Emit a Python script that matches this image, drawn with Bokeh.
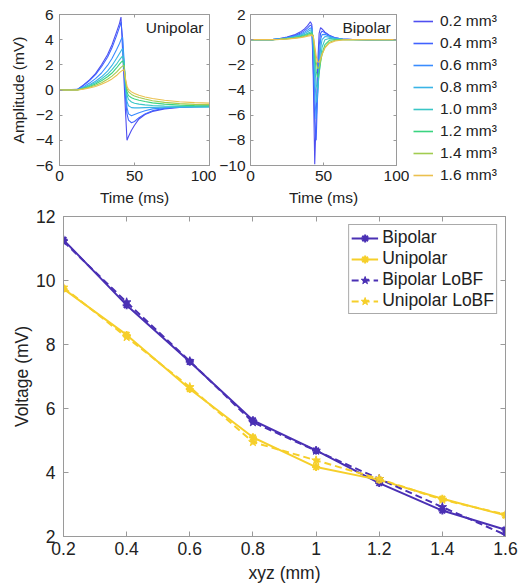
from bokeh.plotting import figure
from bokeh.layouts import column, row
from bokeh.models import Range1d, FixedTicker, LinearAxis, Label, Legend, LegendItem
from bokeh.embed import file_html
from bokeh.resources import INLINE

FONT = "Liberation Sans"
AX = "#9a9a9a"
TXT = "#222222"

# ---------------- data ----------------
volumes = ["0.2 mm³", "0.4 mm³", "0.6 mm³", "0.8 mm³", "1.0 mm³", "1.2 mm³", "1.4 mm³", "1.6 mm³"]
colors = ["#4f4ff0", "#4062ff", "#3a8cff", "#3ab4e6", "#3ac6c6", "#3ad480", "#a2cc50", "#ebc04e"]

t_uni = [0, 12, 16, 20, 24, 28, 32, 35, 38, 40, 41, 42, 43, 44, 45, 46, 48, 50, 53, 57, 62, 70, 80, 90, 100]
uni_02 = [0, 0.05, 0.4, 0.8, 1.3, 2.0, 2.8, 3.6, 4.6, 5.3, 5.8, 3.3, 0.8, -1.7, -4.0, -3.7, -3.2, -2.8, -2.3, -1.95, -1.7, -1.5, -1.38, -1.32, -1.3]
uni_04 = [0, 0.04, 0.37, 0.75, 1.22, 1.85, 2.6, 3.35, 4.3, 5.0, 5.4, 4.2, 1.8, -0.6, -1.9, -2.4, -2.6, -2.5, -2.2, -1.9, -1.65, -1.45, -1.35, -1.3, -1.28]
uni_06 = [0, 0.03, 0.25, 0.55, 0.9, 1.35, 1.95, 2.5, 3.2, 3.7, 4.0, 4.2, 2.5, 0.0, -1.4, -1.9, -2.05, -1.95, -1.8, -1.65, -1.5, -1.42, -1.37, -1.35, -1.33]
uni_08 = [0, 0.02, 0.2, 0.42, 0.7, 1.05, 1.5, 1.95, 2.5, 2.9, 3.1, 3.3, 2.2, 0.2, -0.9, -1.25, -1.4, -1.42, -1.42, -1.4, -1.38, -1.37, -1.36, -1.35, -1.35]
uni_10 = [0, 0.02, 0.16, 0.35, 0.58, 0.88, 1.25, 1.62, 2.05, 2.4, 2.55, 2.7, 2.3, 0.6, -0.4, -0.75, -0.95, -1.05, -1.12, -1.18, -1.23, -1.28, -1.31, -1.32, -1.32]
uni_12 = [0, 0.01, 0.13, 0.28, 0.48, 0.73, 1.05, 1.35, 1.75, 2.05, 2.2, 2.32, 2.0, 0.7, -0.15, -0.45, -0.62, -0.72, -0.82, -0.92, -1.02, -1.12, -1.2, -1.24, -1.25]
uni_14 = [0, 0.01, 0.1, 0.22, 0.38, 0.58, 0.85, 1.1, 1.42, 1.68, 1.8, 1.9, 1.95, 0.8, 0.1, -0.15, -0.35, -0.47, -0.6, -0.72, -0.85, -0.98, -1.08, -1.14, -1.16]
uni_16 = [0, 0.0, 0.07, 0.16, 0.28, 0.45, 0.68, 0.88, 1.15, 1.38, 1.48, 1.56, 1.6, 0.9, 0.3, 0.05, -0.15, -0.28, -0.42, -0.55, -0.68, -0.82, -0.93, -1.0, -1.04]

t_bi = [0, 15, 20, 25, 30, 34, 37, 39, 41, 42, 43, 44, 45, 46, 47, 48, 49, 51, 54, 58, 63, 70, 80, 100]
bi_02 = [0, 0, 0.08, 0.2, 0.38, 0.6, 0.85, 1.1, 1.42, 1.2, -3.0, -9.9, -6.0, -2.0, 0.5, 0.95, 0.85, 0.6, 0.35, 0.15, 0.05, 0.01, 0, 0]
bi_04 = [0, 0, 0.07, 0.17, 0.32, 0.5, 0.72, 0.92, 1.15, 1.05, -2.0, -6.5, -8.0, -4.0, -0.5, 0.5, 0.68, 0.55, 0.32, 0.14, 0.05, 0.01, 0, 0]
bi_06 = [0, 0, 0.06, 0.14, 0.27, 0.42, 0.6, 0.76, 0.93, 0.9, -1.0, -4.5, -6.3, -4.5, -1.5, 0.0, 0.4, 0.42, 0.28, 0.12, 0.04, 0.01, 0, 0]
bi_08 = [0, 0, 0.05, 0.12, 0.22, 0.35, 0.5, 0.63, 0.76, 0.78, -0.3, -3.0, -5.0, -4.2, -2.2, -0.7, 0.0, 0.25, 0.2, 0.09, 0.03, 0.01, 0, 0]
bi_10 = [0, 0, 0.04, 0.1, 0.18, 0.29, 0.4, 0.5, 0.6, 0.65, 0.1, -2.0, -3.6, -3.9, -2.8, -1.5, -0.6, 0.0, 0.1, 0.05, 0.02, 0.0, 0, 0]
bi_12 = [0, 0, 0.03, 0.08, 0.15, 0.24, 0.33, 0.41, 0.5, 0.55, 0.3, -1.2, -2.5, -3.0, -2.6, -1.8, -1.1, -0.4, -0.05, 0.0, 0.0, 0, 0, 0]
bi_14 = [0, 0, 0.02, 0.06, 0.12, 0.19, 0.27, 0.34, 0.41, 0.45, 0.3, -0.8, -1.8, -2.3, -2.2, -1.7, -1.2, -0.6, -0.2, -0.05, -0.01, 0, 0, 0]
bi_16 = [0, 0, 0.02, 0.05, 0.1, 0.15, 0.21, 0.27, 0.32, 0.35, 0.25, -0.5, -1.3, -1.75, -1.8, -1.5, -1.15, -0.65, -0.28, -0.1, -0.03, 0, 0, 0]

uni_curves = [uni_02, uni_04, uni_06, uni_08, uni_10, uni_12, uni_14, uni_16]
bi_curves = [bi_02, bi_04, bi_06, bi_08, bi_10, bi_12, bi_14, bi_16]

xyz = [0.2, 0.4, 0.6, 0.8, 1.0, 1.2, 1.4, 1.6]
xyz_labels = ["0.2", "0.4", "0.6", "0.8", "1", "1.2", "1.4", "1.6"]
bipolar = [11.27, 9.23, 7.46, 5.63, 4.69, 3.67, 2.81, 2.21]
unipolar = [9.74, 8.30, 6.61, 5.10, 4.17, 3.77, 3.18, 2.66]
bipolar_lobf = [11.22, 9.32, 7.48, 5.57, 4.68, 3.80, 2.92, 2.05]
unipolar_lobf = [9.78, 8.23, 6.67, 4.95, 4.38, 3.80, 3.15, 2.69]

BLUE = "#4a30b4"
YEL = "#f6cf2a"


def style(p, fs, ticklen):
    p.xgrid.visible = False
    p.ygrid.visible = False
    p.outline_line_color = AX
    p.background_fill_color = "white"
    p.border_fill_color = "white"
    for ax in p.axis:
        ax.axis_line_color = AX
        ax.major_tick_line_color = AX
        ax.minor_tick_line_color = None
        ax.major_tick_in = ticklen
        ax.major_tick_out = 0
        ax.major_label_text_font = FONT
        ax.major_label_text_font_size = fs
        ax.major_label_text_color = TXT
        ax.axis_label_text_font = FONT
        ax.axis_label_text_font_size = fs
        ax.axis_label_text_font_style = "normal"
        ax.axis_label_text_color = TXT


def add_box_axes(p, xt, yt, ticklen):
    for loc, t in (("above", xt), ("right", yt)):
        ax = LinearAxis(ticker=FixedTicker(ticks=t), major_label_text_font_size="0px",
                        major_label_standoff=0, axis_line_color=AX, major_tick_line_color=AX,
                        minor_tick_line_color=None, major_tick_in=ticklen, major_tick_out=0,
                        major_label_text_alpha=0)
        p.add_layout(ax, loc)


# --------------- top-left: unipolar ----------------
TOPH = 208
xt_top = [0, 50, 100]
f1 = figure(width=216, height=TOPH, x_range=Range1d(0, 100), y_range=Range1d(-6, 6),
            output_backend="svg", toolbar_location=None,
            min_border_left=59, min_border_right=7, min_border_top=14, min_border_bottom=40)
for c, ys in zip(colors, uni_curves):
    f1.line(t_uni, ys, line_color=c, line_width=1.1)
f1.xaxis.ticker = FixedTicker(ticks=xt_top)
f1.yaxis.ticker = FixedTicker(ticks=[-6, -4, -2, 0, 2, 4, 6])
f1.xaxis.axis_label = "Time (ms)"
f1.yaxis.axis_label = "Amplitude (mV)"
style(f1, "15.5px", 3)
add_box_axes(f1, xt_top, [-6, -4, -2, 0, 2, 4, 6], 3)
f1.xaxis[0].major_label_standoff = 4
f1.xaxis[0].axis_label_standoff = 0
f1.yaxis[0].major_label_standoff = 6
f1.yaxis[0].axis_label_standoff = 6
f1.add_layout(Label(x=96, y=5.66, text="Unipolar", text_align="right", text_baseline="top",
                    text_font=FONT, text_font_size="15.5px", text_color=TXT))

# --------------- top-middle: bipolar ----------------
f2 = figure(width=193, height=TOPH, x_range=Range1d(0, 100), y_range=Range1d(-10, 2),
            output_backend="svg", toolbar_location=None,
            min_border_left=31, min_border_right=13, min_border_top=14, min_border_bottom=40)
for c, ys in zip(colors, bi_curves):
    f2.line(t_bi, ys, line_color=c, line_width=1.1)
f2.xaxis.ticker = FixedTicker(ticks=xt_top)
f2.yaxis.ticker = FixedTicker(ticks=[-10, -8, -6, -4, -2, 0, 2])
f2.xaxis.axis_label = "Time (ms)"
style(f2, "15.5px", 3)
add_box_axes(f2, xt_top, [-10, -8, -6, -4, -2, 0, 2], 3)
f2.xaxis[0].major_label_standoff = 4
f2.xaxis[0].axis_label_standoff = 0
f2.yaxis[0].major_label_standoff = 5
f2.add_layout(Label(x=96, y=1.65, text="Bipolar", text_align="right", text_baseline="top",
                    text_font=FONT, text_font_size="15.5px", text_color=TXT))

# --------------- top-right: legend of the volumes ----------------
# (the curves are drawn again here only to key the legend; this frame's range keeps them out of view)
f3 = figure(width=521 - 216 - 193, height=TOPH, x_range=Range1d(1000, 1001), y_range=Range1d(0, 1),
            output_backend="svg", toolbar_location=None,
            x_axis_location=None, y_axis_location=None,
            min_border_left=4, min_border_right=0, min_border_top=10, min_border_bottom=0)
f3.xgrid.visible = False
f3.ygrid.visible = False
f3.outline_line_color = None
items = []
for c, ys, lab in zip(colors, bi_curves, volumes):
    r = f3.line(t_bi, ys, line_color=c, line_width=1.6)
    items.append(LegendItem(label=lab, renderers=[r]))
leg = Legend(items=items, location="top_left", padding=0, margin=0, spacing=0,
             label_height=22, glyph_height=22, glyph_width=20, label_standoff=7,
             label_text_font=FONT, label_text_font_size="15.5px", label_text_color=TXT,
             border_line_alpha=0, background_fill_alpha=0)
f3.add_layout(leg)

# --------------- bottom: voltage vs xyz ----------------
f4 = figure(width=521, height=588 - TOPH, x_range=Range1d(0.2, 1.6), y_range=Range1d(2, 12),
            output_backend="svg", toolbar_location=None,
            min_border_left=63, min_border_right=16, min_border_top=216 - TOPH, min_border_bottom=52)
f4.line(xyz, bipolar, line_color=BLUE, line_width=2, legend_label="Bipolar")
f4.scatter(xyz, bipolar, marker="asterisk", size=8, line_color=BLUE, line_width=2, legend_label="Bipolar")
f4.line(xyz, unipolar, line_color=YEL, line_width=2, legend_label="Unipolar")
f4.scatter(xyz, unipolar, marker="asterisk", size=8, line_color=YEL, line_width=2, legend_label="Unipolar")
f4.line(xyz, bipolar_lobf, line_color=BLUE, line_width=2, line_dash="7 4", legend_label="Bipolar LoBF")
f4.scatter(xyz, bipolar_lobf, marker="star", size=9, line_color=BLUE, fill_color=BLUE,
           legend_label="Bipolar LoBF")
f4.line(xyz, unipolar_lobf, line_color=YEL, line_width=2, line_dash="7 4", legend_label="Unipolar LoBF")
f4.scatter(xyz, unipolar_lobf, marker="star", size=9, line_color=YEL, fill_color=YEL,
           legend_label="Unipolar LoBF")
f4.xaxis.ticker = FixedTicker(ticks=xyz)
f4.xaxis.major_label_overrides = {x: l for x, l in zip(xyz, xyz_labels)}
f4.yaxis.ticker = FixedTicker(ticks=[2, 4, 6, 8, 10, 12])
f4.xaxis.axis_label = "xyz (mm)"
f4.yaxis.axis_label = "Voltage (mV)"
style(f4, "17.5px", 5)
add_box_axes(f4, xyz, [2, 4, 6, 8, 10, 12], 5)
f4.xaxis[0].major_label_standoff = 7
f4.xaxis[0].axis_label_standoff = 1
f4.yaxis[0].major_label_standoff = 8
f4.yaxis[0].axis_label_standoff = 1
lg = f4.legend[0]
lg.location = "top_right"
lg.margin = 8
lg.padding = 2
lg.spacing = 0
lg.label_height = 20
lg.glyph_height = 20
lg.glyph_width = 27
lg.label_standoff = 4
lg.label_text_font = FONT
lg.label_text_font_size = "17.5px"
lg.label_text_color = TXT
lg.border_line_color = "#555555"
lg.border_line_width = 1
lg.background_fill_color = "white"
lg.background_fill_alpha = 1

layout = column(row(f1, f2, column(f3, spacing=0), spacing=0), f4, spacing=0)
open("out.html", "w").write(file_html(layout, INLINE))
